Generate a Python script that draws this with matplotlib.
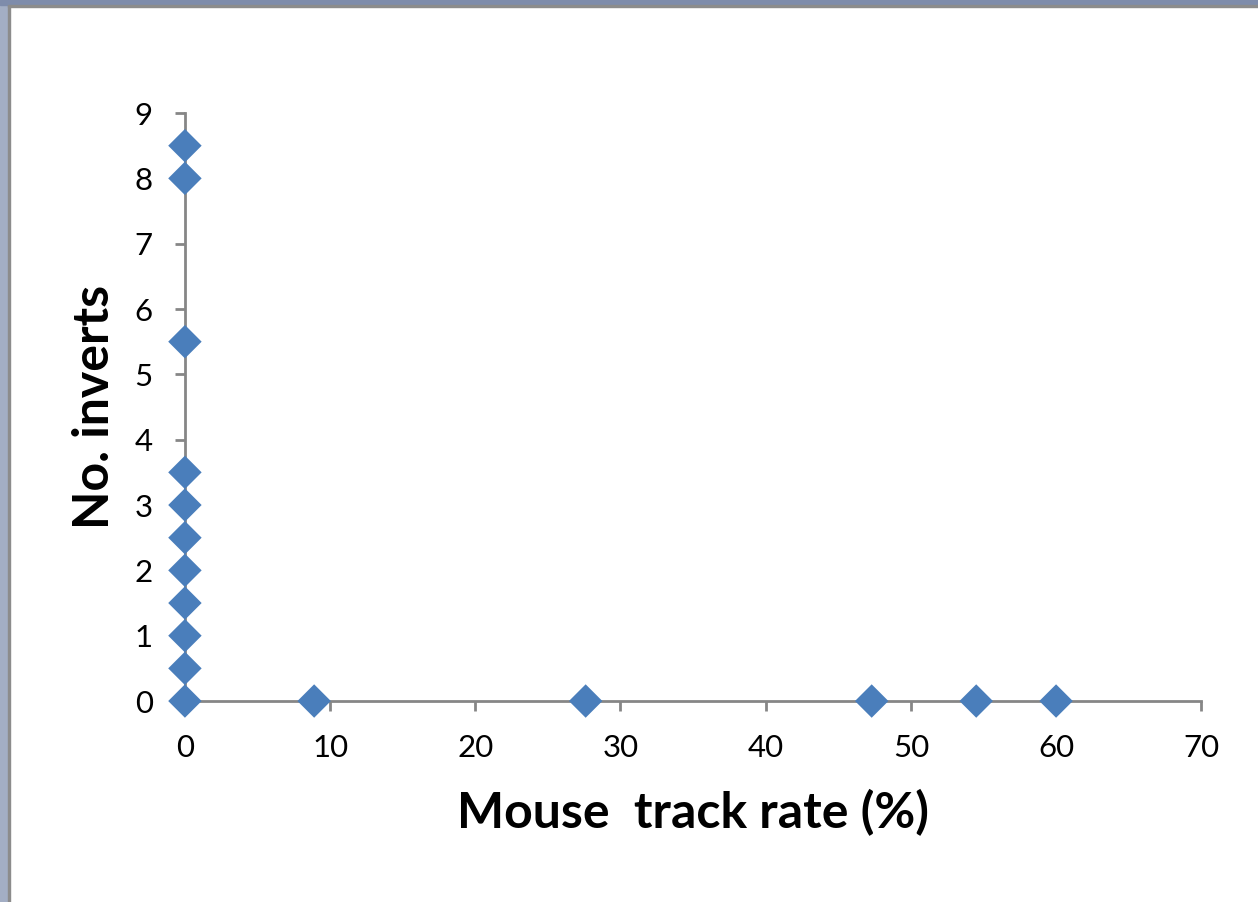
import matplotlib
matplotlib.use('Agg')
import matplotlib.pyplot as plt
from matplotlib.patches import Rectangle

# Mouse track rate (%) vs number of inverts
track_rate = [0, 0, 0, 0, 0, 0, 0, 0, 0, 0, 0, 8.9, 27.6, 47.3, 54.5, 60.0]
no_inverts = [8.5, 8, 5.5, 3.5, 3, 2.5, 2, 1.5, 1, 0.5, 0, 0, 0, 0, 0, 0]

x_ticks = [0, 10, 20, 30, 40, 50, 60, 70]
y_ticks = [0, 1, 2, 3, 4, 5, 6, 7, 8, 9]

plt.rcParams['font.family'] = ['Lato', 'DejaVu Sans']

fig = plt.figure(figsize=(12.58, 9.02), dpi=100)
ax = fig.add_axes([0.147, 0.2228, 0.8079, 0.6519])

ax.scatter(track_rate, no_inverts, marker='D', s=290, color='#4a7ebb',
           edgecolors='none', zorder=3, clip_on=False)

ax.set_xlim(0, 70)
ax.set_ylim(0, 9)
ax.set_xticks(x_ticks)
ax.set_yticks(y_ticks)

for side in ['top', 'right']:
    ax.spines[side].set_visible(False)
for side in ['left', 'bottom']:
    ax.spines[side].set_color('#868686')
    ax.spines[side].set_linewidth(2)

ax.tick_params(axis='both', direction='out', length=7, width=2, color='#868686',
               labelsize=22.5, labelcolor='black')
ax.tick_params(axis='y', pad=16)
ax.tick_params(axis='x', pad=17)

ax.set_xlabel('Mouse  track rate (%)', fontsize=36, fontweight='bold', labelpad=19)
ax.set_ylabel('No. inverts', fontsize=36, fontweight='bold', labelpad=13)

# window frame along the top and left edges
fig.add_artist(Rectangle((0, 0), 8 / 1258, 1, transform=fig.transFigure,
                         color='#a3aec4', zorder=0))
fig.add_artist(Rectangle((8 / 1258, 0), 2 / 1258, 1 - 5 / 902, transform=fig.transFigure,
                         color='#8c8c8c', zorder=0))
fig.add_artist(Rectangle((0, 1 - 5 / 902), 1, 5 / 902, transform=fig.transFigure,
                         color='#7e8cab', zorder=0))
fig.add_artist(Rectangle((8 / 1258, 1 - 7 / 902), 1, 2 / 902, transform=fig.transFigure,
                         color='#8c8c8c', zorder=0))

fig.savefig('out.png', dpi=100)
